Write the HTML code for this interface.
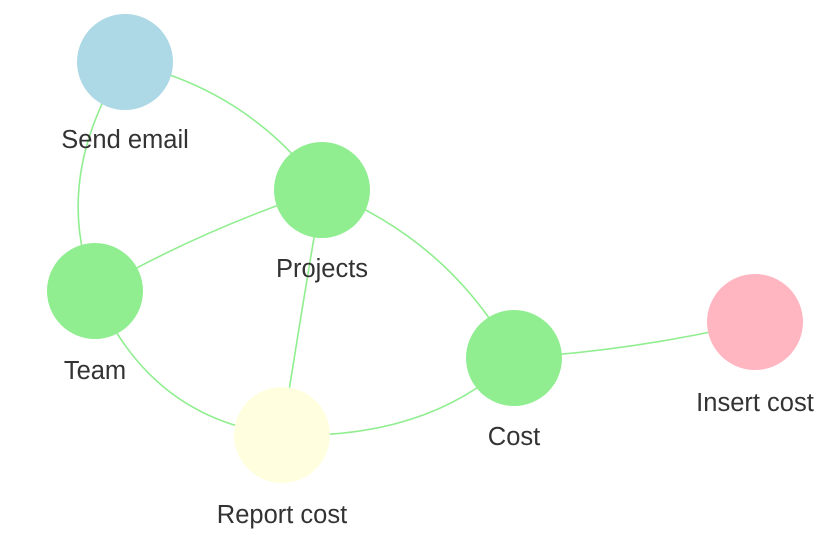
<!DOCTYPE html>
<html><head><meta charset="utf-8"><style>
html,body{margin:0;padding:0;background:#fff;}
svg{display:block;}
text{font-family:"Liberation Sans",Arial,sans-serif;font-size:25.5px;fill:#333;text-anchor:middle;}
</style></head><body>
<svg width="828" height="542" viewBox="0 0 828 542" xmlns="http://www.w3.org/2000/svg">
<g fill="none" stroke="#90ee90" stroke-width="1.6">
<path d="M125,62 Q250,90 322,190"/>
<path d="M125,62 Q50,180 95,291"/>
<path d="M95,291 Q200,230 322,190"/>
<path d="M322,190 Q300,320 282,435"/>
<path d="M322,190 Q450,240 514,358"/>
<path d="M514,358 Q640,350 755,322"/>
<path d="M95,291 Q150,420 282,435"/>
<path d="M282,435 Q430,440 514,358"/>
</g>
<circle cx="125" cy="62" r="48" fill="#add8e6"/>
<circle cx="322" cy="190" r="48" fill="#90ee90"/>
<circle cx="95" cy="291" r="48" fill="#90ee90"/>
<circle cx="514" cy="358" r="48" fill="#90ee90"/>
<circle cx="755" cy="322" r="48" fill="#ffb6c1"/>
<circle cx="282" cy="435" r="48" fill="#ffffe0"/>
<text x="125" y="148">Send email</text>
<text x="322" y="277">Projects</text>
<text x="95" y="379">Team</text>
<text x="514" y="445">Cost</text>
<text x="755" y="411">Insert cost</text>
<text x="282" y="523">Report cost</text>
</svg>
</body></html>
